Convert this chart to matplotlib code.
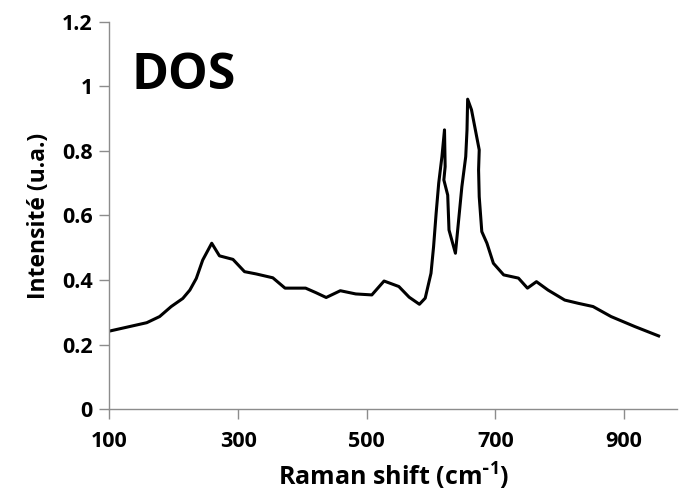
import matplotlib
matplotlib.use("Agg")
import matplotlib.pyplot as plt

plt.rcParams['font.family'] = ['Open Sans', 'DejaVu Sans']
plt.rcParams['font.weight'] = 'bold'
plt.rcParams['mathtext.default'] = 'regular'

# Raman shift (cm-1) and intensity
shift = [100, 158, 178, 196, 214, 225, 235, 245, 259, 271, 292, 310, 328, 354,
         373, 405, 421, 437, 459, 483, 508, 527, 550, 566, 582, 591, 600, 604,
         608, 612, 617, 621, 622, 620, 626, 628, 638, 643, 648, 654, 656, 657,
         663, 669, 675, 674, 675, 679, 687, 697, 713, 736, 750, 764, 782, 808,
         829, 852, 880, 917, 954]
intensity = [0.242, 0.268, 0.287, 0.318, 0.343, 0.369, 0.405, 0.462, 0.514,
             0.475, 0.464, 0.426, 0.419, 0.407, 0.375, 0.375, 0.361, 0.346,
             0.367, 0.357, 0.354, 0.397, 0.380, 0.347, 0.325, 0.344, 0.421,
             0.503, 0.607, 0.700, 0.782, 0.865, 0.751, 0.710, 0.663, 0.555,
             0.483, 0.586, 0.689, 0.782, 0.865, 0.960, 0.927, 0.865, 0.803,
             0.741, 0.658, 0.550, 0.514, 0.452, 0.416, 0.406, 0.375, 0.395,
             0.369, 0.338, 0.328, 0.318, 0.287, 0.256, 0.227]

x_ticks = [100, 300, 500, 700, 900]
y_ticks = [0, 0.2, 0.4, 0.6, 0.8, 1, 1.2]
y_tick_labels = ['0', '0.2', '0.4', '0.6', '0.8', '1', '1.2']

fig = plt.figure(figsize=(6.8, 5.04), dpi=100)
ax = fig.add_axes([0.161, 0.188, 0.835, 0.769])

ax.plot(shift, intensity, color='black', linewidth=2.2, solid_joinstyle='round')

ax.set_xlim(100, 983)
ax.set_ylim(0, 1.2)
ax.set_xticks(x_ticks)
ax.set_yticks(y_ticks)
ax.set_yticklabels(y_tick_labels)

for side in ['top', 'right']:
    ax.spines[side].set_visible(False)
for side in ['left', 'bottom']:
    ax.spines[side].set_color('#8c8c8c')
    ax.spines[side].set_linewidth(1)
ax.tick_params(axis='both', direction='out', length=7, width=1, color='#8c8c8c',
               labelsize=15.5)
ax.tick_params(axis='x', pad=9)
ax.tick_params(axis='y', pad=5)
for lab in ax.get_xticklabels() + ax.get_yticklabels():
    lab.set_fontweight('bold')

ax.set_xlabel(r'Raman shift (cm$^{\text{-}\mathregular{1}}$)', fontsize=18, fontweight='bold', labelpad=6)
ax.set_ylabel('Intensité (u.a.)', fontsize=16.5, fontweight='bold', labelpad=8)

ax.text(0.038, 0.859, 'DOS', transform=ax.transAxes, fontsize=36, fontweight='bold',
        va='center', ha='left')

fig.savefig('out.png', dpi=100)
